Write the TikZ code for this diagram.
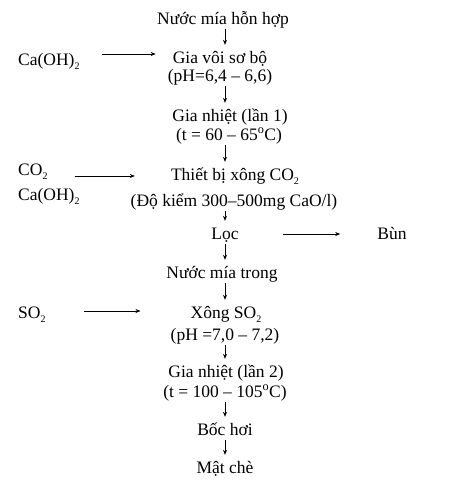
\documentclass[tikz,border=0pt]{standalone}
\usepackage{fontspec}
\setmainfont{Liberation Serif}
\usetikzlibrary{arrows.meta}
\newcommand{\lowtwo}{\raisebox{-4pt}{\fontsize{10}{10}\selectfont 2}}
\tikzset{
  stage/.style={anchor=base, inner sep=0pt, text height=12pt, text depth=4pt},
  feed/.style={anchor=base west, inner sep=0pt},
  flow/.style={-{Stealth[length=5pt,width=4pt]}, line width=0.6pt, shorten <=1pt, shorten >=6pt},
  side/.style={-{Stealth[length=5pt,width=4pt]}, line width=0.6pt},
}
\begin{document}
\begin{tikzpicture}[x=1pt, y=-1pt, every node/.style={font=\fontsize{17.5}{20}\selectfont}]
  \useasboundingbox (0,0) rectangle (457,491);
  \coordinate (axis) at (225,0);

  % main line
  \node [stage] (nmhh) at (223,24)  {Nước mía hỗn hợp};
  \node [stage] (gv1)  at (220,63)  {Gia vôi sơ bộ};
  \node [stage] (gv2)  at (220,81)  {(pH=6,4 – 6,6)};
  \node [stage] (gn1a) at (230,121) {Gia nhiệt (lần 1)};
  \node [stage] (gn1b) at (229,140) {(t = 60 – 65\textsuperscript{o}C)};
  \node [stage] (tb1)  at (235,180) {Thiết bị xông CO\lowtwo};
  \node [stage] (tb2)  at (234,206) {(Độ kiểm 300–500mg CaO/l)};
  \node [stage] (loc)  at (225,239) {Lọc};
  \node [stage] (nmt)  at (222,278) {Nước mía trong};
  \node [stage] (xs1)  at (226,318) {Xông SO\lowtwo};
  \node [stage] (xs2)  at (225,340) {(pH =7,0 – 7,2)};
  \node [stage] (gn2a) at (226,377) {Gia nhiệt (lần 2)};
  \node [stage] (gn2b) at (225,397) {(t = 100 – 105\textsuperscript{o}C)};
  \node [stage] (bh)   at (225,435) {Bốc hơi};
  \node [stage] (mc)   at (225,473) {Mật chè};

  % inputs and outputs
  \node [feed] (caoh1) at (18,65)  {Ca(OH)\lowtwo};
  \node [feed] (co2)   at (18,175) {CO\lowtwo};
  \node [feed] (caoh2) at (18,200) {Ca(OH)\lowtwo};
  \node [feed] (so2)   at (18,318) {SO\lowtwo};
  \node [stage] (bun)  at (392,239) {Bùn};

  \foreach \a/\b in {nmhh/gv1, gv2/gn1a, gn1b/tb1, tb2/loc, loc/nmt, nmt/xs1, xs2/gn2a, gn2b/bh, bh/mc} {
    \draw [flow] (\a.south -| axis) -- (\b.north -| axis);
  }

  \draw [side] ([shift={(22,-11)}]caoh1.base east) -- ([shift={(-17,-9)}]gv1.base west);
  \draw [side] ([shift={(27,1)}]co2.base east) -- ([shift={(-36,-4)}]tb1.base west);
  \draw [side] ([shift={(44,-5)}]loc.base east) -- ([shift={(-37,-5)}]bun.base west);
  \draw [side] ([shift={(38,-7)}]so2.base east) -- ([shift={(-50,-7)}]xs1.base west);
\end{tikzpicture}
\end{document}
